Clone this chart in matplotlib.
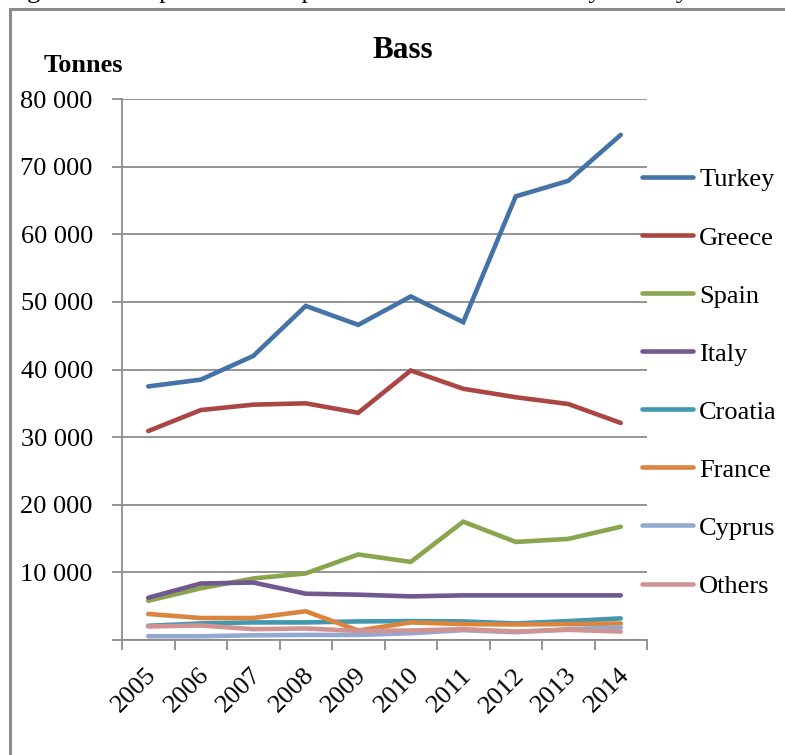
import matplotlib
matplotlib.use("Agg")
import matplotlib.pyplot as plt
from matplotlib.patches import Rectangle
from matplotlib.lines import Line2D
from matplotlib.transforms import ScaledTranslation

years = ["2005", "2006", "2007", "2008", "2009", "2010", "2011", "2012", "2013", "2014"]
turkey = [37500, 38500, 42000, 49400, 46600, 50800, 47000, 65600, 67900, 74700]
greece = [30900, 34000, 34800, 35000, 33600, 39850, 37150, 35900, 34900, 32100]
spain = [5800, 7650, 9100, 9850, 12650, 11550, 17500, 14500, 14950, 16750]
italy = [6250, 8350, 8500, 6850, 6700, 6450, 6600, 6600, 6600, 6600]
croatia = [2100, 2450, 2600, 2600, 2750, 2800, 2750, 2450, 2800, 3200]
france = [3850, 3250, 3250, 4250, 1400, 2600, 2350, 2300, 2350, 2450]
cyprus = [550, 550, 700, 750, 750, 1000, 1450, 1150, 1600, 1850]
others = [2000, 2150, 1600, 1700, 1350, 1400, 1600, 1250, 1500, 1250]

series_names = ["Turkey", "Greece", "Spain", "Italy", "Croatia", "France", "Cyprus", "Others"]
series_values = [turkey, greece, spain, italy, croatia, france, cyprus, others]
colors = ["#4572A7", "#AA4643", "#89A54E", "#71588F", "#4198AF", "#DB843D", "#93A9CF", "#D19392"]

yticks = [0, 10000, 20000, 30000, 40000, 50000, 60000, 70000, 80000]
ytick_labels = ["", "10 000", "20 000", "30 000", "40 000", "50 000", "60 000", "70 000", "80 000"]

plt.rcParams['font.family'] = ['Liberation Serif', 'DejaVu Serif']

W, H = 785, 755
FS = 19
fig = plt.figure(figsize=(W / 100, H / 100), dpi=100)

# outer frame (chart area border, partly cropped)
fig.patches.append(Rectangle((10 / W, -0.1), 1.2, 1 - 9 / H + 0.1, transform=fig.transFigure,
                             fill=False, edgecolor="#8c8c8c", linewidth=2.2))

# cropped caption at top (only descenders visible, as in the source)
fig.text(5 / W, 1 + 2.5 / H, "Figure 3: European seabass production in 2005\u20132014 by country",
         fontsize=FS, ha="left", va="baseline", color="black")

ax = fig.add_axes([122 / W, 1 - 640 / H, (647 - 122) / W, (640 - 99) / H])
x = list(range(len(years)))
for name, vals, c in zip(series_names, series_values, colors):
    ax.plot(x, vals, color=c, lw=3.3, solid_capstyle="round", solid_joinstyle="miter", label=name)

ax.set_xlim(-0.5, len(years) - 0.5)
ax.set_ylim(0, 80000)
ax.set_yticks(yticks)
ax.set_yticklabels(ytick_labels, fontsize=FS)
ax.yaxis.grid(True, color="#8c8c8c", lw=1.3)
ax.set_axisbelow(True)
ax.tick_params(axis="y", length=7, width=1.3, color="#8c8c8c", pad=14)

# x ticks: marks at category boundaries, labels at centers
ax.set_xticks([i - 0.5 for i in range(len(years) + 1)])
ax.set_xticklabels([])
ax.tick_params(axis="x", length=7, width=1.3, color="#8c8c8c")
ax.set_xticks(x, minor=True)
ax.set_xticklabels(years, minor=True, rotation=45, ha="right", va="center",
                   rotation_mode="anchor", fontsize=FS)
ax.tick_params(axis="x", which="minor", length=0, pad=23)
offset = ScaledTranslation(5 / 100, 0, fig.dpi_scale_trans)
for lbl in ax.get_xticklabels(minor=True):
    lbl.set_transform(lbl.get_transform() + offset)

for s in ["top", "right"]:
    ax.spines[s].set_visible(False)
for s in ["left", "bottom"]:
    ax.spines[s].set_color("#8c8c8c")
    ax.spines[s].set_linewidth(1.3)

# title and unit label
fig.text(403 / W, 1 - 50 / H, "Bass", fontsize=22.5, fontweight="bold", ha="center", va="center")
fig.text(83 / W, 1 - 66 / H, "Tonnes", fontsize=19, fontweight="bold", ha="center", va="center")

# legend
handles = [Line2D([0], [0], color=c, lw=3.3, solid_capstyle="round") for c in colors]
leg = fig.legend(handles, series_names, loc="upper left", bbox_to_anchor=(642 / W, 1 - 168 / H),
                 frameon=False, fontsize=FS, handlelength=1.95, handletextpad=0.22,
                 labelspacing=1.31, borderaxespad=0, borderpad=0)

fig.savefig("out.png", dpi=100)
